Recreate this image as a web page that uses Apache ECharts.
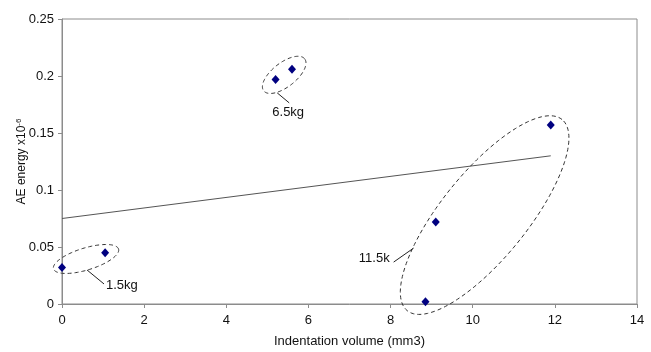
<!DOCTYPE html>
<html>
<head>
<meta charset="utf-8">
<script src="https://cdn.jsdelivr.net/npm/echarts@6/dist/echarts.min.js"></script>
<style>
  html, body { margin: 0; padding: 0; background: #fff; }
  #chart { width: 651px; height: 352px; }
</style>
</head>
<body>
<div id="chart"></div>
<script>
// Indentation volume (mm3) and AE energy (x10^-6) for each test
const volume = [0, 1.05, 5.2, 5.6, 8.85, 9.1, 11.9];
const energy = [0.032, 0.045, 0.197, 0.206, 0.002, 0.072, 0.157];

// Linear trend line end points
const trendX = [0, 11.9];
const trendY = [0.075, 0.13];

// Load groups circled on the plot
const groupLabels = ['1.5kg', '6.5kg', '11.5k'];
const groupCenterX = [0.585, 5.41, 10.29];
const groupCenterY = [0.0395, 0.201, 0.078];

const xTicks = { min: 0, max: 14, interval: 2 };
const yTicks = { min: 0, max: 0.25, interval: 0.05 };

// Ellipse shape (pixels) and leader/label placement relative to each group centre
const groupShapes = [
  { a: 34, b: 11, angle: 17, lead: [[1, 11], [18, 25]], text: [20, 26], align: 'left' },
  { a: 26, b: 12, angle: 38, lead: [[-7, 18], [5, 28]], text: [4, 38], align: 'center' },
  { a: 123, b: 43, angle: 51, lead: [[-71, 33], [-91, 47]], text: [-95, 43], align: 'right' }
];

const FONT = '"Liberation Sans", Arial, sans-serif';
const chart = echarts.init(document.getElementById('chart'), null, { renderer: 'canvas' });

function ellipsePoints(cx, cy, a, b, deg) {
  const t = deg * Math.PI / 180, c = Math.cos(t), s = Math.sin(t);
  const pts = [];
  for (let i = 0; i < 120; i++) {
    const p = i / 120 * Math.PI * 2;
    const u = a * Math.cos(p), v = b * Math.sin(p);
    pts.push([cx + u * c - v * s, cy - (u * s + v * c)]);
  }
  return pts;
}

const option = {
  backgroundColor: '#fff',
  animation: false,
  grid: {
    left: 62, right: 14, top: 19, bottom: 48,
    containLabel: false, outerBoundsMode: 'none',
    show: true, borderColor: '#8c8c8c', borderWidth: 1
  },
  xAxis: {
    type: 'value', min: xTicks.min, max: xTicks.max, interval: xTicks.interval,
    name: 'Indentation volume (mm3)', nameLocation: 'middle', nameGap: 31, nameMoveOverlap: false,
    nameTextStyle: { fontFamily: FONT, fontSize: 13, color: '#111' },
    axisLine: { show: true, onZero: false, lineStyle: { color: '#8c8c8c' } },
    axisTick: { show: true, length: 4, lineStyle: { color: '#8c8c8c' } },
    axisLabel: { fontFamily: FONT, fontSize: 13, color: '#111', margin: 10 },
    splitLine: { show: false }
  },
  yAxis: {
    type: 'value', min: yTicks.min, max: yTicks.max, interval: yTicks.interval,
    name: 'AE energy x10{sup|-6}', nameLocation: 'middle', nameGap: 33, nameRotate: 90, nameMoveOverlap: false,
    nameTextStyle: {
      fontFamily: FONT, fontSize: 12, color: '#111',
      rich: { sup: { fontFamily: FONT, fontSize: 8, color: '#111', verticalAlign: 'top', padding: [0, 0, 6, 0] } }
    },
    axisLine: { show: true, lineStyle: { color: '#8c8c8c' } },
    axisTick: { show: true, length: 4, lineStyle: { color: '#8c8c8c' } },
    axisLabel: { fontFamily: FONT, fontSize: 13, color: '#111', margin: 8 },
    splitLine: { show: false }
  },
  series: [
    {
      type: 'line',
      data: trendX.map((x, i) => [x, trendY[i]]),
      symbol: 'none',
      lineStyle: { color: '#555', width: 1 },
      z: 2
    },
    {
      type: 'custom',
      data: groupLabels.map((l, i) => [groupCenterX[i], groupCenterY[i], i]),
      clip: false,
      z: 3,
      renderItem: function (params, api) {
        const i = api.value(2);
        const g = groupShapes[i];
        const c = api.coord([api.value(0), api.value(1)]);
        return {
          type: 'group',
          children: [
            {
              type: 'polygon',
              shape: { points: ellipsePoints(c[0], c[1], g.a, g.b, g.angle) },
              style: { fill: 'none', stroke: '#333', lineWidth: 1, lineDash: [4, 3] }
            },
            {
              type: 'line',
              shape: { x1: c[0] + g.lead[0][0], y1: c[1] + g.lead[0][1], x2: c[0] + g.lead[1][0], y2: c[1] + g.lead[1][1] },
              style: { stroke: '#222', lineWidth: 1 }
            },
            {
              type: 'text',
              x: c[0] + g.text[0], y: c[1] + g.text[1],
              style: { text: groupLabels[i], fontFamily: FONT, fontSize: 13, fill: '#111', align: g.align, verticalAlign: 'middle' }
            }
          ]
        };
      }
    },
    {
      type: 'scatter',
      data: volume.map((x, i) => [x, energy[i]]),
      symbol: 'diamond',
      symbolSize: [8, 9],
      itemStyle: { color: '#000080', opacity: 1 },
      clip: false,
      z: 4
    }
  ]
};
chart.setOption(option);
</script>
</body>
</html>
